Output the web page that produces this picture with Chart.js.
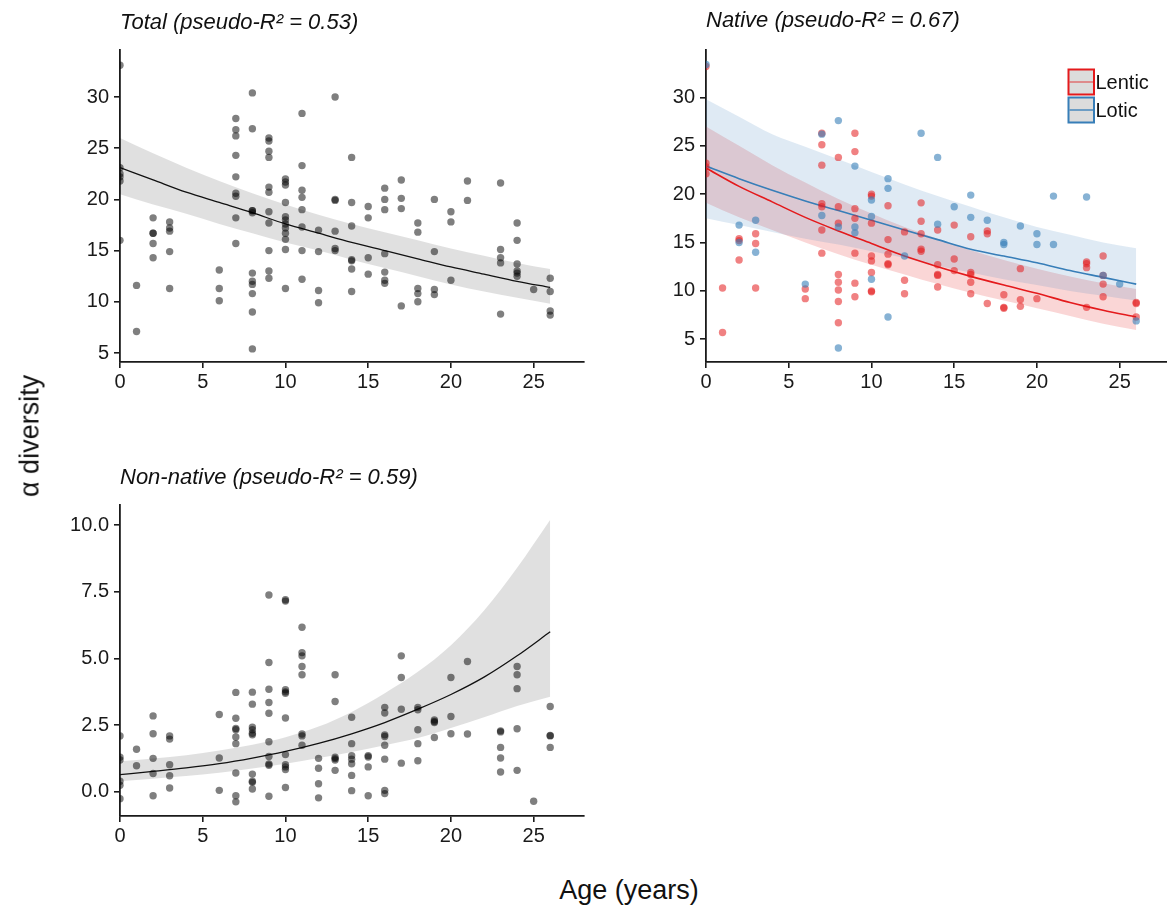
<!DOCTYPE html>
<html><head><meta charset="utf-8">
<script src="https://cdn.jsdelivr.net/npm/chart.js@4.4.1/dist/chart.umd.min.js"></script>
<style>
html,body{margin:0;padding:0;background:#fff;overflow:hidden;width:1167px;height:911px;}
canvas{position:absolute;}
.lab{position:absolute;font-family:"Liberation Sans",Arial,sans-serif;font-size:27px;color:#111;white-space:nowrap;}
</style></head><body>
<canvas id="cTotal" width="587" height="410" style="left:0px;top:0px"></canvas>
<canvas id="cNative" width="573" height="410" style="left:600px;top:0px"></canvas>
<canvas id="cNon" width="587" height="410" style="left:0px;top:450px"></canvas>
<div class="lab" style="left:30px;top:436px;transform:translate(-50%,-50%) rotate(-90deg)">α diversity</div>
<div class="lab" style="left:629px;top:890px;transform:translate(-50%,-50%)">Age (years)</div>
<script>
// ---------- DATA ----------
const xTicks = [0, 5, 10, 15, 20, 25];
const yTicksTotal = [5, 10, 15, 20, 25, 30];
const yTicksNative = [5, 10, 15, 20, 25, 30];
const yTicksNon = [0, 2.5, 5, 7.5, 10];

const titles = ["Total (pseudo-R² = 0.53)", "Native (pseudo-R² = 0.67)", "Non-native (pseudo-R² = 0.59)"];
const legendLabels = ["Lentic", "Lotic"];

// observed points: [age, [values...]]
const totalPoints = [
  [0, [33.1, 23.1, 22.5, 22.2, 21.8, 16.0]],
  [1, [11.6, 7.1]],
  [2, [18.2, 16.7, 16.7, 15.7, 14.3]],
  [3, [17.8, 17.2, 16.9, 14.9, 11.3]],
  [6, [13.1, 11.3, 10.1]],
  [7, [27.9, 26.8, 26.2, 24.3, 22.2, 20.6, 20.3, 18.2, 15.7]],
  [8, [30.4, 26.9, 18.9, 18.9, 18.7, 12.8, 12.0, 11.7, 10.8, 9.0, 5.4]],
  [9, [26.0, 25.7, 24.7, 24.1, 21.2, 20.7, 18.8, 17.7, 15.0, 13.0, 12.3]],
  [10, [22.0, 21.7, 21.4, 19.7, 18.3, 18.0, 17.6, 17.2, 16.7, 16.1, 15.1, 11.3]],
  [11, [28.4, 23.3, 20.9, 20.2, 19.0, 17.3, 15.0, 12.2]],
  [12, [17.0, 14.9, 11.1, 9.9]],
  [13, [30.0, 20.0, 19.9, 16.9, 15.2, 15.0]],
  [14, [24.1, 19.7, 17.4, 14.1, 14.0, 13.2, 11.0]],
  [15, [19.3, 18.2, 14.3, 12.7]],
  [16, [21.1, 20.0, 19.0, 14.7, 12.9, 12.1, 11.8]],
  [17, [21.9, 20.1, 19.1, 9.6]],
  [18, [17.7, 16.8, 11.3, 10.8, 10.0]],
  [19, [20.0, 14.9, 11.2, 10.7]],
  [20, [18.8, 17.8, 12.1]],
  [21, [21.8, 19.9]],
  [23, [21.6, 15.1, 14.3, 13.8, 8.8]],
  [24, [17.7, 16.0, 13.7, 13.0, 12.8, 12.5]],
  [25, [11.2]],
  [26, [12.3, 11.0, 9.1, 8.7]]
];
const lenticPoints = [
  [0, [33.2, 23.2, 22.8, 22.1]],
  [1, [10.3, 5.7]],
  [2, [15.4, 15.2, 13.2]],
  [3, [15.9, 14.9, 10.3]],
  [6, [10.2, 9.2]],
  [7, [26.3, 25.1, 23.0, 19.0, 18.7, 16.3, 13.9]],
  [8, [23.8, 18.7, 17.0, 11.7, 10.9, 10.1, 8.9, 6.7]],
  [9, [26.3, 24.4, 18.5, 17.5, 13.9, 10.8, 9.4]],
  [10, [20.0, 19.8, 17.0, 13.6, 13.1, 11.9, 10.0, 9.9]],
  [11, [18.8, 15.3, 13.8, 12.8, 12.7]],
  [12, [16.1, 11.1, 9.7]],
  [13, [19.1, 17.2, 15.9, 14.3, 14.1]],
  [14, [16.3, 12.7, 11.7, 11.6, 10.4]],
  [15, [16.8, 13.3, 12.1]],
  [16, [15.6, 11.9, 11.7, 10.9, 9.7]],
  [17, [16.2, 15.9, 8.7]],
  [18, [9.6, 8.3, 8.2]],
  [19, [12.3, 9.1, 8.4]],
  [20, [9.2]],
  [23, [13.0, 12.8, 12.4, 8.3]],
  [24, [13.6, 11.6, 10.7, 9.4]],
  [26, [8.8, 8.7, 7.3]]
];
const loticPoints = [
  [0, [33.4]],
  [2, [16.8, 15.0]],
  [3, [17.3, 14.0]],
  [6, [10.7]],
  [7, [26.2, 17.8]],
  [8, [27.6, 16.6, 4.1]],
  [9, [22.9, 16.6, 16.0]],
  [10, [19.4, 17.7, 11.2]],
  [11, [21.6, 20.6, 7.3]],
  [12, [13.6]],
  [13, [26.3]],
  [14, [23.8, 16.9]],
  [15, [18.7]],
  [16, [19.9, 17.6]],
  [17, [17.3]],
  [18, [15.0, 14.8]],
  [19, [16.7]],
  [20, [15.9, 14.8]],
  [21, [19.8, 14.8]],
  [23, [19.7]],
  [24, [11.6]],
  [25, [10.7]],
  [26, [6.9]]
];
const nonNativePoints = [
  [0, [2.1, 1.3, 1.2, 0.4, 0.25, -0.25]],
  [1, [1.6, 0.98]],
  [2, [2.85, 2.18, 1.26, 0.69, -0.14]],
  [3, [2.1, 1.98, 1.02, 0.61, 0.15]],
  [6, [2.9, 1.27, 0.06]],
  [7, [3.73, 2.76, 2.38, 2.33, 2.06, 1.81, 0.71, -0.14, -0.37]],
  [8, [3.74, 3.29, 2.43, 2.33, 2.2, 2.14, 0.67, 0.4, 0.36, 0.11]],
  [9, [7.38, 4.85, 3.85, 3.35, 2.95, 1.88, 1.33, 1.05, 1.0, -0.16]],
  [10, [7.2, 7.15, 3.83, 3.75, 3.7, 2.77, 1.4, 1.02, 0.94, 0.84, 0.17]],
  [11, [6.17, 5.22, 5.1, 4.7, 4.39, 2.17, 2.1, 1.75]],
  [12, [1.26, 0.89, 0.31, -0.22]],
  [13, [4.39, 3.39, 1.3, 1.25, 1.2, 0.81]],
  [14, [2.8, 1.81, 1.36, 1.23, 1.06, 0.62, 0.05]],
  [15, [1.36, 1.31, 0.94, -0.14]],
  [16, [3.17, 2.96, 2.14, 2.08, 1.75, 1.23, 0.06, -0.06]],
  [17, [5.1, 4.29, 3.1, 1.08]],
  [18, [3.17, 3.08, 2.33, 1.81, 1.17]],
  [19, [2.7, 2.64, 2.6, 2.04]],
  [20, [4.29, 2.83, 2.18]],
  [21, [4.89, 2.17]],
  [23, [2.29, 2.25, 1.67, 1.27, 0.75]],
  [24, [4.7, 4.39, 3.87, 2.37, 0.81]],
  [25, [-0.35]],
  [26, [3.2, 2.12, 2.1, 1.67]]
];

// fitted curves and confidence bands, read at these ages
const fitAges = [0, 2, 4, 6, 8, 10, 12, 14, 16, 18, 20, 22, 24, 26];
const totalFit = [23.1, 21.9, 20.7, 19.7, 18.7, 17.6, 16.7, 15.8, 15.0, 14.2, 13.4, 12.7, 12.0, 11.4];
const totalHi  = [26.0, 24.5, 23.1, 21.8, 20.6, 19.5, 18.5, 17.6, 16.8, 16.0, 15.2, 14.5, 13.8, 13.2];
const totalLo  = [20.5, 19.5, 18.6, 17.6, 16.7, 15.8, 15.0, 14.1, 13.3, 12.5, 11.7, 11.0, 10.4, 9.8];

const lenticFit = [22.7, 20.8, 19.2, 17.6, 16.2, 14.9, 13.6, 12.5, 11.5, 10.6, 9.75, 8.8, 8.0, 7.3];
const lenticHi  = [27.0, 25.0, 23.0, 21.2, 19.5, 18.0, 16.6, 15.4, 14.2, 13.2, 12.3, 11.5, 10.8, 10.2];
const lenticLo  = [19.1, 17.6, 16.3, 15.0, 13.8, 12.7, 11.7, 10.7, 9.8, 9.0, 8.2, 7.4, 6.6, 5.95];

const loticFit = [22.9, 21.6, 20.4, 19.3, 18.3, 17.3, 16.3, 15.3, 14.3, 13.6, 12.9, 12.1, 11.4, 10.7];
const loticHi  = [29.8, 28.0, 26.2, 24.9, 23.6, 22.3, 21.0, 19.8, 18.7, 17.6, 16.6, 15.8, 15.0, 14.4];
const loticLo  = [17.5, 16.8, 16.1, 15.4, 14.8, 14.1, 13.4, 12.6, 11.9, 11.2, 10.6, 10.0, 9.5, 9.0];

const nonFit = [0.65, 0.77, 0.9, 1.06, 1.27, 1.52, 1.82, 2.18, 2.6, 3.1, 3.65, 4.3, 5.1, 6.0];
const nonHi  = [1.15, 1.25, 1.38, 1.55, 1.77, 2.05, 2.45, 3.0, 3.7, 4.5, 5.5, 6.8, 8.4, 10.2];
const nonLo  = [0.4, 0.5, 0.6, 0.72, 0.88, 1.06, 1.27, 1.5, 1.75, 2.02, 2.4, 2.8, 3.22, 3.57];

// ---------- HELPERS ----------
const FONT = "'Liberation Sans', Arial, sans-serif";
const INK = '#1a1a1a';
function expand(groups) {
  const out = [];
  groups.forEach(([a, vals]) => vals.forEach(v => out.push({x: a, y: v})));
  return out;
}
function curve(ys) { return fitAges.map((a, i) => ({x: a, y: ys[i]})); }

function pointsDS(groups, color, order) {
  return {type: 'scatter', data: expand(groups), backgroundColor: color, borderWidth: 0,
    pointRadius: 3.7, pointHoverRadius: 3.7, order: order, clip: 0};
}
function lineDS(ys, color, width, order) {
  return {type: 'line', data: curve(ys), borderColor: color, borderWidth: width, pointRadius: 0,
    tension: 0.4, cubicInterpolationMode: 'monotone', fill: false, order: order, clip: 0};
}
function bandDS(ys, fillColor, fillTarget, order) {
  return {type: 'line', data: curve(ys), borderWidth: 0, borderColor: 'rgba(0,0,0,0)', pointRadius: 0,
    tension: 0.4, cubicInterpolationMode: 'monotone', fill: fillTarget, backgroundColor: fillColor,
    order: order, clip: 0};
}

function axisCommon(ticks, fmt, padding) {
  return {
    type: 'linear',
    afterBuildTicks: s => { s.ticks = ticks.map(v => ({value: v})); },
    grid: {drawOnChartArea: false, drawTicks: true, tickLength: 6, color: INK, lineWidth: 1.6},
    border: {display: true, color: INK, width: 1.8},
    ticks: {font: {size: 20, family: FONT}, color: INK, padding: padding, maxRotation: 0,
      autoSkip: false, callback: fmt}
  };
}

function makeChart(id, cfg) {
  const x = axisCommon(xTicks, v => String(v), 2);
  x.min = 0; x.max = 28;
  x.afterFit = s => { s.height = cfg.xHeight; };
  const y = axisCommon(cfg.yTicks, cfg.yFmt, 5);
  y.min = cfg.yMin; y.max = cfg.yMax;
  y.afterFit = s => { s.width = cfg.yWidth; };
  return new Chart(document.getElementById(id), {
    type: 'scatter',
    data: {datasets: cfg.datasets},
    options: {
      responsive: false, animation: false, events: [],
      layout: {padding: 0},
      scales: {x: x, y: y},
      plugins: {
        legend: {display: false}, tooltip: {enabled: false},
        title: {display: true, text: cfg.title, align: 'start', fullSize: false, color: '#111',
          font: {size: 22, style: 'italic', weight: 'normal', family: FONT},
          padding: {top: cfg.tPad[0], bottom: cfg.tPad[1]}}
      }
    },
    plugins: cfg.plugins || []
  });
}

// ---------- PANELS ----------
makeChart('cTotal', {
  title: titles[0], yTicks: yTicksTotal, yFmt: v => String(v), yMin: 4.12, yMax: 34.59,
  yWidth: 120, xHeight: 48, tPad: [9.68, 13.92],
  datasets: [
    pointsDS(totalPoints, 'rgba(0,0,0,0.5)', 0),
    lineDS(totalFit, '#111', 1.3, 1),
    bandDS(totalLo, 'rgba(0,0,0,0)', false, 3),
    bandDS(totalHi, 'rgba(0,0,0,0.12)', '-1', 2)
  ]
});

const legendPlugin = {
  id: 'habitatLegend',
  afterDraw(chart) {
    const ctx = chart.ctx;
    const keys = [
      {label: legendLabels[0], border: '#E41A1C', line: 'rgba(228,26,28,0.55)', top: 69.5},
      {label: legendLabels[1], border: '#377EB8', line: 'rgba(55,126,184,0.9)', top: 97.5}
    ];
    ctx.save();
    keys.forEach(k => {
      const x0 = 468.5, w = 25.5, h = 25;
      ctx.fillStyle = '#dcdcdc';
      ctx.fillRect(x0, k.top, w, h);
      ctx.strokeStyle = k.border; ctx.lineWidth = 2;
      ctx.strokeRect(x0, k.top, w, h);
      ctx.strokeStyle = k.line; ctx.lineWidth = 1.5;
      ctx.beginPath(); ctx.moveTo(x0 + 1, k.top + h / 2); ctx.lineTo(x0 + w - 1, k.top + h / 2); ctx.stroke();
      ctx.fillStyle = '#111';
      ctx.font = '20px ' + FONT;
      ctx.textBaseline = 'middle'; ctx.textAlign = 'left';
      ctx.fillText(k.label, x0 + w + 1.5, k.top + h / 2 + 1);
    });
    ctx.restore();
  }
};

makeChart('cNative', {
  title: titles[1], yTicks: yTicksNative, yFmt: v => String(v), yMin: 2.65, yMax: 34.9,
  yWidth: 106, xHeight: 48, tPad: [7.18, 16.42],
  datasets: [
    pointsDS(lenticPoints, 'rgba(228,26,28,0.55)', 1),
    pointsDS(loticPoints, 'rgba(55,126,184,0.6)', 0),
    lineDS(lenticFit, '#E41A1C', 1.6, 3),
    lineDS(loticFit, '#377EB8', 1.6, 2),
    bandDS(lenticLo, 'rgba(0,0,0,0)', false, 7),
    bandDS(lenticHi, 'rgba(228,26,28,0.18)', '-1', 6),
    bandDS(loticLo, 'rgba(0,0,0,0)', false, 5),
    bandDS(loticHi, 'rgba(55,126,184,0.16)', '-1', 4)
  ],
  plugins: [legendPlugin]
});

makeChart('cNon', {
  title: titles[2], yTicks: yTicksNon, yFmt: v => v.toFixed(1), yMin: -0.9, yMax: 10.75,
  yWidth: 120, xHeight: 44, tPad: [14.18, 14.42],
  datasets: [
    pointsDS(nonNativePoints, 'rgba(0,0,0,0.5)', 0),
    lineDS(nonFit, '#111', 1.3, 1),
    bandDS(nonLo, 'rgba(0,0,0,0)', false, 3),
    bandDS(nonHi, 'rgba(0,0,0,0.12)', '-1', 2)
  ]
});
</script>
</body></html>
